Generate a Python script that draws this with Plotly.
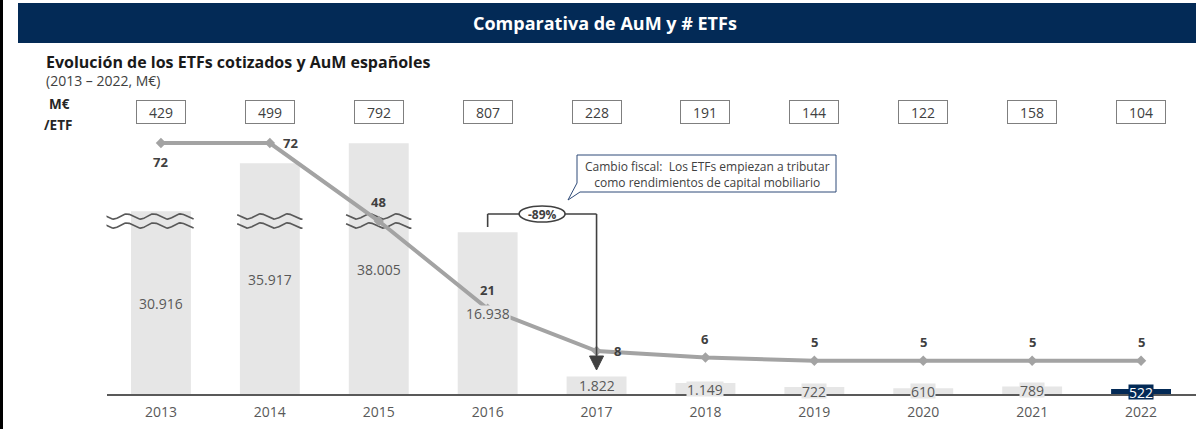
import math
import plotly.graph_objects as go

W, H = 1203, 429

# ---- data -------------------------------------------------------------
years = [2013, 2014, 2015, 2016, 2017, 2018, 2019, 2020, 2021, 2022]
aum = [30916, 35917, 38005, 16938, 1822, 1149, 722, 610, 789, 522]          # M€
etfs = [72, 72, 48, 21, 8, 6, 5, 5, 5, 5]                                   # nº ETFs
aum_per_etf = [429, 499, 792, 807, 228, 191, 144, 122, 158, 104]            # M€ / ETF

# ---- styling ------------------------------------------------------------
NAVY = "#032a56"
BAR_GREY = "#e6e6e6"
LINE_GREY = "#a3a3a3"
TXT = "#404040"
TXT_LIGHT = "#595959"
FONT = "Open Sans"
bar_colors = [BAR_GREY] * (len(years) - 1) + [NAVY]
etf_label_pos = ["below", "right", "above", "above", "right",
                 "above", "above", "above", "above", "above"]


def px(x):
    return x / W


def py(y):
    return 1 - y / H


# broken value axis: lower segment + upper segment
LOW_DOM = [py(394), py(222)]
LOW_RANGE = [0, 18000]
UP_DOM = [py(222), py(120)]
UP_RANGE = [29800, 29800 + 102 * 104.3]
ETF_RANGE = [-16, 116]


def bar_top(v):
    if v <= LOW_RANGE[1]:
        return LOW_DOM[0] + v / LOW_RANGE[1] * (LOW_DOM[1] - LOW_DOM[0])
    v = min(v, UP_RANGE[1])
    return UP_DOM[0] + (v - UP_RANGE[0]) / (UP_RANGE[1] - UP_RANGE[0]) * (UP_DOM[1] - UP_DOM[0])


def fmt(v):
    return f"{v:,}".replace(",", ".")


fig = go.Figure()

# bars on both segments of the broken axis
for ax in ("y", "y2"):
    fig.add_trace(go.Bar(
        x=years, y=aum, yaxis=ax, width=0.55,
        marker=dict(color=bar_colors, line=dict(width=0)),
        hoverinfo="skip" if ax == "y2" else "x+y", showlegend=False))

# break marks on the bars that exceed the lower segment
yr_px = (1195.5 - 106.5) / 10.0
for i, (yr, v) in enumerate(zip(years, aum)):
    if v <= LOW_RANGE[1]:
        continue
    left = 0.53 if i == 0 else 0.30
    x0, x1 = yr - left, yr + 0.30
    n = 80
    xs = [x0 + (x1 - x0) * k / n for k in range(n + 1)]
    for yc in (216.5, 225.5):
        ys = [py(yc) + (2.6 / H) * math.sin(2 * math.pi * (x - x0) * yr_px / 27.0 + 2.4) for x in xs]
        fig.add_trace(go.Scatter(x=xs, y=ys, yaxis="y3", mode="lines",
                                 line=dict(color=TXT_LIGHT, width=1.6),
                                 hoverinfo="skip", showlegend=False))

# number of ETFs
fig.add_trace(go.Scatter(
    x=years, y=etfs, yaxis="y4", mode="lines+markers",
    line=dict(color=LINE_GREY, width=4),
    marker=dict(symbol="diamond", size=8, color=LINE_GREY),
    showlegend=False))

ann = []
shapes = []

# ETF count labels
for yr, n, pos in zip(years, etfs, etf_label_pos):
    xs, ys = (0, -19) if pos == "below" else ((21, 0) if pos == "right" else (0, 19))
    ann.append(dict(x=yr, y=n, xref="x", yref="y4", text=f"<b>{n}</b>", showarrow=False,
                    xshift=xs, yshift=ys, font=dict(family=FONT, size=13, color=TXT)))

# AuM labels in the middle of each visible bar
for yr, v, c in zip(years, aum, bar_colors):
    mid = (LOW_DOM[0] + bar_top(v)) / 2
    ann.append(dict(x=yr, y=mid, xref="x", yref="paper", text=fmt(v), showarrow=False,
                    bgcolor=c, borderpad=0, height=14,
                    font=dict(family=FONT, size=14, color="white" if c == NAVY else TXT_LIGHT)))

# M€ / ETF boxes
for yr, r in zip(years, aum_per_etf):
    ann.append(dict(x=yr, y=py(112), xref="x", yref="paper", text=str(r), showarrow=False,
                    width=48, height=22, borderpad=0, bordercolor="#7f7f7f", borderwidth=1,
                    bgcolor="white", font=dict(family=FONT, size=14, color=TXT)))
ann.append(dict(x=px(59), y=py(104), xref="paper", yref="paper", text="<b>M€</b>",
                showarrow=False, font=dict(family=FONT, size=13.5, color="#262626")))
ann.append(dict(x=px(58), y=py(125), xref="paper", yref="paper", text="<b>/ETF</b>",
                showarrow=False, font=dict(family=FONT, size=13.5, color="#262626")))

# header band and titles
shapes.append(dict(type="rect", xref="paper", yref="paper", x0=px(18), x1=px(1196),
                   y0=py(43), y1=py(3), fillcolor=NAVY, line=dict(width=0), layer="below"))
ann.append(dict(x=px(605), y=py(23), xref="paper", yref="paper",
                text="<b>Comparativa de AuM y # ETFs</b>", showarrow=False,
                font=dict(family=FONT, size=18, color="white")))
ann.append(dict(x=px(44), y=py(62), xref="paper", yref="paper", xanchor="left",
                text="<b>Evolución de los ETFs cotizados y AuM españoles</b>", showarrow=False,
                font=dict(family=FONT, size=16, color="#1a1a1a")))
ann.append(dict(x=px(44), y=py(81), xref="paper", yref="paper", xanchor="left",
                text="(2013 – 2022, M€)", showarrow=False,
                font=dict(family=FONT, size=14, color=TXT)))

# left frame line
shapes.append(dict(type="line", xref="paper", yref="paper", x0=px(1.5), x1=px(1.5),
                   y0=0, y1=1, line=dict(color="black", width=3)))

# drop bracket between 2016 and 2017
i16, i17 = years.index(2016), years.index(2017)
drop = round((etfs[i17] - etfs[1]) / etfs[1] * 100)
bx0, bx1 = years[i16], years[i17]
bl = dict(color=TXT, width=1.6)
shapes += [
    dict(type="line", xref="x", yref="paper", x0=bx0, x1=bx0, y0=py(214), y1=py(227), line=bl),
    dict(type="line", xref="x", yref="paper", x0=bx0, x1=bx1, y0=py(214), y1=py(214), line=bl),
    dict(type="line", xref="x", yref="paper", x0=bx1, x1=bx1, y0=py(214), y1=py(357), line=bl),
]
hw = 7 / yr_px
shapes.append(dict(type="path", xref="x", yref="paper",
                   path=f"M {bx1 - hw},{py(356)} L {bx1 + hw},{py(356)} L {bx1},{py(370)} Z",
                   fillcolor=TXT, line=dict(color=TXT, width=1)))
xm = (bx0 + bx1) / 2
shapes.append(dict(type="circle", xref="x", yref="paper", x0=xm - 23 / yr_px, x1=xm + 23 / yr_px,
                   y0=py(222), y1=py(206), fillcolor="white", line=dict(color=TXT, width=1.6)))
ann.append(dict(x=xm, y=py(214), xref="x", yref="paper", text=f"<b>{drop}%</b>",
                showarrow=False, font=dict(family=FONT, size=12, color=TXT)))

# callout
cp = (f"M {px(577)},{py(155)} L {px(836)},{py(155)} L {px(836)},{py(192)} "
      f"L {px(580)},{py(192)} L {px(568)},{py(200)} L {px(577)},{py(183)} Z")
shapes.append(dict(type="path", xref="paper", yref="paper", path=cp,
                   fillcolor="white", line=dict(color="#2e4a78", width=1)))
ann.append(dict(x=px(707), y=py(174), xref="paper", yref="paper",
                text="Cambio fiscal:  Los ETFs empiezan a tributar<br>como rendimientos de capital mobiliario",
                showarrow=False, font=dict(family=FONT, size=12, color=TXT)))

for a in ann:
    a.setdefault("yanchor", "middle")
    a.setdefault("xanchor", "center")

hidden = dict(visible=False, fixedrange=True, anchor="x")
fig.update_layout(
    width=W, height=H, margin=dict(l=0, r=0, t=0, b=0),
    paper_bgcolor="white", plot_bgcolor="rgba(0,0,0,0)",
    barmode="overlay", showlegend=False,
    xaxis=dict(domain=[px(106.5), px(1195.5)], range=[2012.5, 2022.5],
               tickvals=years, ticktext=[str(y) for y in years],
               showline=True, linecolor=TXT_LIGHT, linewidth=2, anchor="y",
               showgrid=False, zeroline=False, ticks="", fixedrange=True,
               ticklabelstandoff=4,
               tickfont=dict(family=FONT, size=14, color=TXT_LIGHT)),
    yaxis=dict(domain=LOW_DOM, range=LOW_RANGE, **hidden),
    yaxis2=dict(domain=UP_DOM, range=UP_RANGE, **hidden),
    yaxis3=dict(domain=[0, 1], range=[0, 1], **hidden),
    yaxis4=dict(domain=[0, 1], range=ETF_RANGE, **hidden),
    annotations=ann, shapes=shapes,
)

fig.write_html("out.html")
